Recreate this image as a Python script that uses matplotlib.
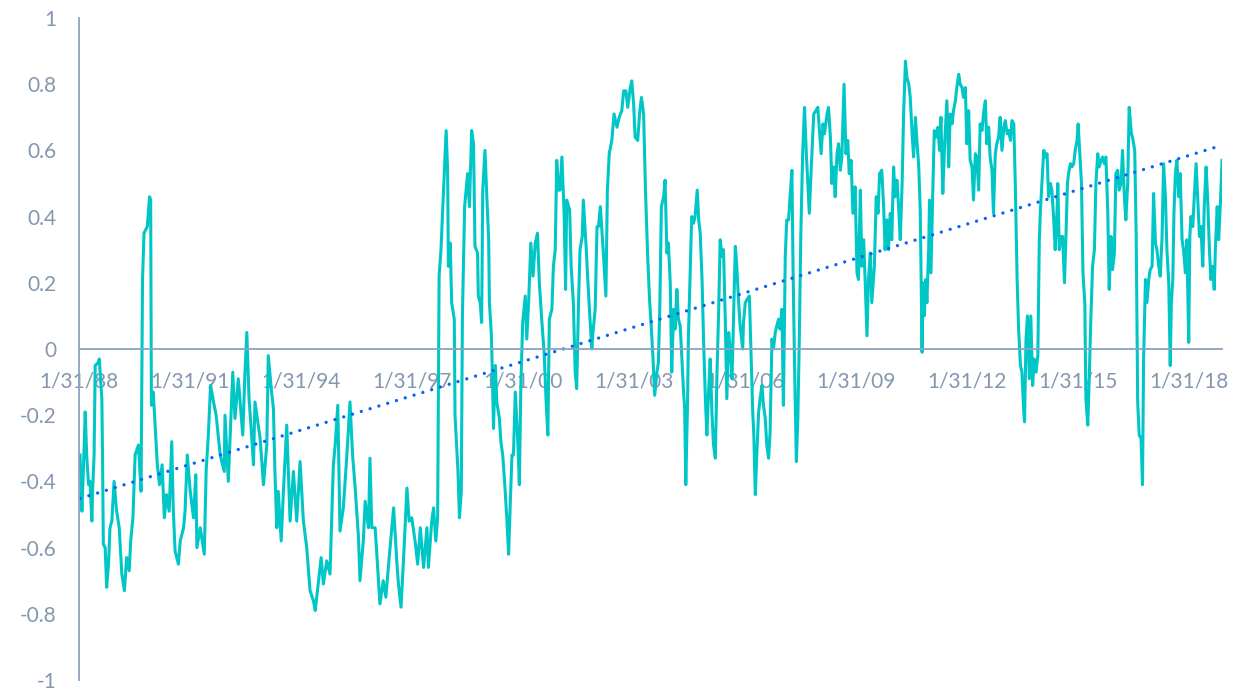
import numpy as np
import matplotlib
matplotlib.use("Agg")
import matplotlib.pyplot as plt

# rolling correlation, in decimal years
yrs_88_93 = [1988.11, 1988.16, 1988.20, 1988.25, 1988.29, 1988.34, 1988.38, 1988.43, 1988.45, 1988.49,
             1988.52, 1988.61, 1988.63, 1988.70, 1988.72, 1988.74, 1988.79, 1988.83, 1988.88, 1988.92,
             1988.97, 1989.03, 1989.10, 1989.17, 1989.24, 1989.31, 1989.37, 1989.44, 1989.48, 1989.54,
             1989.60, 1989.69, 1989.76, 1989.80, 1989.84, 1989.93, 1989.99, 1990.02, 1990.04, 1990.09,
             1990.14, 1990.20, 1990.26, 1990.33, 1990.39, 1990.45, 1990.52, 1990.59, 1990.63, 1990.68,
             1990.77, 1990.82, 1990.91, 1990.95, 1991.01, 1991.09, 1991.18, 1991.24, 1991.27, 1991.36,
             1991.47, 1991.52, 1991.58, 1991.64, 1991.72, 1991.79, 1991.90, 1992.01, 1992.03, 1992.12,
             1992.17, 1992.24, 1992.30, 1992.39, 1992.51, 1992.57, 1992.62, 1992.68, 1992.75, 1992.80,
             1992.84, 1992.98, 1993.07, 1993.16, 1993.20]
corr_88_93 = [-0.32, -0.49, -0.37, -0.19, -0.32, -0.41, -0.40, -0.52, -0.43, -0.32,
              -0.05, -0.04, -0.03, -0.15, -0.34, -0.59, -0.60, -0.72, -0.65, -0.54,
              -0.52, -0.40, -0.49, -0.54, -0.68, -0.73, -0.63, -0.67, -0.58, -0.51,
              -0.32, -0.29, -0.43, 0.21, 0.35, 0.37, 0.46, 0.45, -0.17, -0.13,
              -0.23, -0.35, -0.41, -0.35, -0.51, -0.44, -0.49, -0.28, -0.48, -0.61,
              -0.65, -0.58, -0.54, -0.49, -0.32, -0.43, -0.51, -0.38, -0.60, -0.54,
              -0.62, -0.37, -0.26, -0.11, -0.16, -0.20, -0.32, -0.37, -0.20, -0.40,
              -0.26, -0.07, -0.21, -0.09, -0.26, -0.07, 0.05, -0.15, -0.26, -0.35,
              -0.16, -0.27, -0.41, -0.29, -0.02]

yrs_93_98 = [1993.29, 1993.34, 1993.38, 1993.43, 1993.47, 1993.55, 1993.61, 1993.70, 1993.79, 1993.88,
             1993.97, 1994.06, 1994.15, 1994.24, 1994.33, 1994.42, 1994.47, 1994.56, 1994.63, 1994.69,
             1994.78, 1994.87, 1994.96, 1995.01, 1995.08, 1995.14, 1995.23, 1995.32, 1995.41, 1995.48,
             1995.55, 1995.64, 1995.68, 1995.77, 1995.82, 1995.91, 1995.95, 1996.00, 1996.09, 1996.18,
             1996.22, 1996.31, 1996.38, 1996.47, 1996.59, 1996.68, 1996.72, 1996.79, 1996.86, 1996.95,
             1997.01, 1997.08, 1997.17, 1997.24, 1997.31, 1997.40, 1997.49, 1997.53, 1997.62, 1997.67,
             1997.73, 1997.78, 1997.82, 1997.87, 1997.94, 1998.01, 1998.05, 1998.07, 1998.12, 1998.16,
             1998.23, 1998.25, 1998.33, 1998.37, 1998.42, 1998.45, 1998.51]
corr_93_98 = [-0.13, -0.18, -0.37, -0.54, -0.43, -0.58, -0.43, -0.23, -0.52, -0.37,
              -0.52, -0.34, -0.52, -0.60, -0.73, -0.76, -0.79, -0.70, -0.63, -0.71,
              -0.64, -0.68, -0.35, -0.29, -0.17, -0.55, -0.48, -0.33, -0.16, -0.32,
              -0.42, -0.57, -0.70, -0.58, -0.46, -0.54, -0.33, -0.54, -0.54, -0.70,
              -0.77, -0.70, -0.75, -0.63, -0.48, -0.65, -0.71, -0.78, -0.63, -0.42,
              -0.52, -0.51, -0.58, -0.65, -0.54, -0.66, -0.54, -0.66, -0.52, -0.48,
              -0.58, -0.51, 0.22, 0.30, 0.48, 0.66, 0.54, 0.25, 0.32, 0.14,
              0.09, -0.20, -0.37, -0.51, -0.43, 0.10, 0.43]

yrs_98_03 = [1998.59, 1998.64, 1998.70, 1998.75, 1998.79, 1998.86, 1998.88, 1998.93, 1998.97, 1999.00,
             1999.06, 1999.11, 1999.16, 1999.18, 1999.23, 1999.26, 1999.29, 1999.34, 1999.38, 1999.45,
             1999.49, 1999.54, 1999.59, 1999.65, 1999.70, 1999.74, 1999.79, 1999.83, 1999.88, 1999.94,
             1999.99, 2000.03, 2000.08, 2000.15, 2000.19, 2000.24, 2000.30, 2000.36, 2000.42, 2000.48,
             2000.53, 2000.60, 2000.66, 2000.71, 2000.76, 2000.80, 2000.87, 2000.91, 2000.96, 2001.00,
             2001.05, 2001.09, 2001.14, 2001.20, 2001.24, 2001.27, 2001.35, 2001.39, 2001.45, 2001.50,
             2001.54, 2001.59, 2001.63, 2001.69, 2001.72, 2001.80, 2001.84, 2001.90, 2001.95, 2001.98,
             2002.04, 2002.09, 2002.13, 2002.18, 2002.25, 2002.33, 2002.37, 2002.42, 2002.49, 2002.55,
             2002.63, 2002.69, 2002.76, 2002.81, 2002.87, 2002.92, 2002.99, 2003.03, 2003.08, 2003.12,
             2003.19, 2003.24, 2003.29, 2003.35, 2003.40, 2003.46, 2003.51, 2003.55, 2003.60, 2003.65,
             2003.71]
corr_98_03 = [0.53, 0.43, 0.66, 0.62, 0.31, 0.29, 0.16, 0.14, 0.08, 0.48,
              0.60, 0.46, 0.33, 0.14, 0.05, -0.07, -0.24, -0.05, -0.16, -0.21,
              -0.28, -0.32, -0.40, -0.51, -0.62, -0.48, -0.32, -0.32, -0.13, -0.26,
              -0.41, -0.11, 0.08, 0.16, 0.03, 0.14, 0.32, 0.22, 0.32, 0.35,
              0.20, 0.08, -0.01, -0.15, -0.26, 0.09, 0.12, 0.25, 0.30, 0.57,
              0.48, 0.48, 0.58, 0.41, 0.18, 0.45, 0.42, 0.25, 0.14, -0.07,
              -0.12, 0.14, 0.30, 0.34, 0.45, 0.30, 0.21, 0.09, 0.00, 0.05,
              0.12, 0.37, 0.37, 0.43, 0.31, 0.16, 0.48, 0.59, 0.63, 0.71,
              0.67, 0.70, 0.72, 0.78, 0.78, 0.73, 0.79, 0.81, 0.74, 0.64,
              0.63, 0.71, 0.76, 0.71, 0.48, 0.28, 0.15, 0.08, -0.02, -0.14,
              -0.07]

yrs_03_09 = [2003.75, 2003.79, 2003.83, 2003.89, 2003.93, 2003.98, 2004.02, 2004.07, 2004.11, 2004.16,
             2004.20, 2004.25, 2004.29, 2004.34, 2004.38, 2004.43, 2004.46, 2004.49, 2004.54, 2004.56,
             2004.61, 2004.65, 2004.70, 2004.74, 2004.80, 2004.84, 2004.88, 2004.93, 2004.97, 2005.02,
             2005.06, 2005.11, 2005.15, 2005.20, 2005.24, 2005.29, 2005.33, 2005.38, 2005.42, 2005.47,
             2005.51, 2005.56, 2005.60, 2005.65, 2005.69, 2005.74, 2005.78, 2005.83, 2005.87, 2005.92,
             2005.96, 2006.03, 2006.05, 2006.10, 2006.15, 2006.21, 2006.26, 2006.30, 2006.33, 2006.37,
             2006.41, 2006.46, 2006.50, 2006.55, 2006.59, 2006.64, 2006.68, 2006.73, 2006.77, 2006.82,
             2006.86, 2006.91, 2006.95, 2007.00, 2007.04, 2007.09, 2007.13, 2007.18, 2007.22, 2007.27,
             2007.31, 2007.36, 2007.39, 2007.43, 2007.48, 2007.52, 2007.56, 2007.60, 2007.65, 2007.70,
             2007.75, 2007.79, 2007.83, 2007.88, 2007.95, 2008.01, 2008.06, 2008.11, 2008.15, 2008.20,
             2008.24, 2008.31, 2008.35, 2008.40, 2008.44, 2008.49, 2008.53, 2008.58, 2008.62, 2008.67,
             2008.71, 2008.77, 2008.82, 2008.87, 2008.91, 2008.96, 2009.01]
corr_03_09 = [-0.04, 0.14, 0.43, 0.46, 0.51, 0.29, 0.32, 0.20, -0.07, 0.12,
              0.06, 0.18, 0.09, 0.07, -0.02, -0.13, -0.18, -0.41, -0.15, 0.03,
              0.23, 0.40, 0.38, 0.40, 0.48, 0.39, 0.35, 0.21, 0.03, -0.15,
              -0.26, -0.12, -0.03, -0.20, -0.29, -0.33, -0.09, 0.12, 0.33, 0.28,
              0.30, 0.08, -0.15, 0.05, 0.00, -0.09, 0.09, 0.31, 0.25, 0.14,
              0.07, 0.00, 0.08, 0.14, 0.15, 0.16, -0.03, -0.19, -0.26, -0.44,
              -0.32, -0.19, -0.15, -0.11, -0.17, -0.21, -0.29, -0.33, -0.25, 0.03,
              0.00, 0.05, 0.07, 0.09, 0.06, 0.12, -0.17, 0.28, 0.39, 0.39,
              0.46, 0.54, 0.25, -0.04, -0.34, -0.21, 0.03, 0.34, 0.59, 0.73,
              0.59, 0.50, 0.41, 0.54, 0.71, 0.72, 0.73, 0.65, 0.59, 0.68,
              0.65, 0.71, 0.73, 0.64, 0.50, 0.55, 0.46, 0.59, 0.62, 0.54,
              0.58, 0.80, 0.59, 0.63, 0.53, 0.57, 0.41]

yrs_09_14 = [2009.07, 2009.12, 2009.16, 2009.21, 2009.25, 2009.30, 2009.34, 2009.39, 2009.43, 2009.48,
             2009.52, 2009.59, 2009.64, 2009.69, 2009.73, 2009.79, 2009.84, 2009.88, 2009.93, 2009.97,
             2010.02, 2010.06, 2010.11, 2010.15, 2010.20, 2010.25, 2010.29, 2010.34, 2010.38, 2010.43,
             2010.47, 2010.52, 2010.56, 2010.61, 2010.65, 2010.70, 2010.74, 2010.79, 2010.83, 2010.88,
             2010.90, 2010.94, 2010.98, 2011.01, 2011.06, 2011.08, 2011.12, 2011.17, 2011.21, 2011.26,
             2011.31, 2011.35, 2011.39, 2011.44, 2011.49, 2011.53, 2011.55, 2011.60, 2011.64, 2011.69,
             2011.73, 2011.78, 2011.82, 2011.87, 2011.91, 2011.96, 2012.00, 2012.05, 2012.09, 2012.14,
             2012.18, 2012.23, 2012.27, 2012.32, 2012.36, 2012.41, 2012.45, 2012.50, 2012.54, 2012.59,
             2012.63, 2012.68, 2012.72, 2012.77, 2012.81, 2012.86, 2012.90, 2012.95, 2012.99, 2013.04,
             2013.09, 2013.13, 2013.18, 2013.22, 2013.27, 2013.31, 2013.36, 2013.40, 2013.45, 2013.49,
             2013.54, 2013.58, 2013.63, 2013.65, 2013.69, 2013.73, 2013.78, 2013.82, 2013.87, 2013.91,
             2013.96, 2014.01, 2014.05, 2014.08, 2014.12, 2014.17, 2014.21, 2014.26, 2014.30]
corr_09_14 = [0.49, 0.23, 0.21, 0.48, 0.25, 0.33, 0.21, 0.04, 0.21, 0.29,
              0.14, 0.25, 0.46, 0.41, 0.53, 0.54, 0.43, 0.30, 0.39, 0.30,
              0.41, 0.33, 0.55, 0.46, 0.51, 0.42, 0.33, 0.50, 0.71, 0.87,
              0.82, 0.80, 0.76, 0.65, 0.58, 0.70, 0.63, 0.55, 0.42, -0.01,
              0.20, 0.10, 0.21, 0.14, 0.31, 0.45, 0.23, 0.48, 0.66, 0.64,
              0.67, 0.60, 0.70, 0.47, 0.62, 0.71, 0.75, 0.55, 0.71, 0.68,
              0.72, 0.75, 0.79, 0.83, 0.80, 0.79, 0.76, 0.79, 0.62, 0.72,
              0.57, 0.55, 0.45, 0.59, 0.58, 0.48, 0.68, 0.66, 0.71, 0.75,
              0.62, 0.67, 0.58, 0.54, 0.41, 0.59, 0.62, 0.64, 0.70, 0.60,
              0.67, 0.69, 0.65, 0.66, 0.63, 0.69, 0.68, 0.50, 0.21, 0.06,
              -0.05, -0.07, -0.19, -0.22, 0.03, 0.10, -0.09, 0.10, -0.11, -0.03,
              -0.07, -0.02, 0.33, 0.42, 0.50, 0.60, 0.58, 0.59, 0.46]

yrs_14_18 = [2014.35, 2014.39, 2014.44, 2014.48, 2014.53, 2014.55, 2014.59, 2014.64, 2014.68, 2014.73,
             2014.77, 2014.81, 2014.84, 2014.89, 2014.93, 2014.98, 2015.02, 2015.07, 2015.10, 2015.14,
             2015.19, 2015.23, 2015.28, 2015.31, 2015.36, 2015.40, 2015.44, 2015.49, 2015.54, 2015.58,
             2015.63, 2015.67, 2015.72, 2015.76, 2015.81, 2015.85, 2015.90, 2015.94, 2015.99, 2016.03,
             2016.08, 2016.12, 2016.17, 2016.21, 2016.26, 2016.30, 2016.35, 2016.39, 2016.44, 2016.48,
             2016.54, 2016.57, 2016.63, 2016.67, 2016.71, 2016.75, 2016.80, 2016.84, 2016.87, 2016.92,
             2016.96, 2017.01, 2017.05, 2017.10, 2017.14, 2017.19, 2017.23, 2017.28, 2017.32, 2017.37,
             2017.41, 2017.46, 2017.50, 2017.55, 2017.59, 2017.62, 2017.66, 2017.69, 2017.73, 2017.77,
             2017.82, 2017.86, 2017.91, 2017.95, 2018.00, 2018.04, 2018.09, 2018.12, 2018.15, 2018.20,
             2018.24, 2018.29, 2018.33, 2018.38, 2018.42, 2018.47, 2018.51, 2018.56, 2018.60, 2018.65,
             2018.69, 2018.74, 2018.78, 2018.81, 2018.86, 2018.90, 2018.95, 2018.99]
corr_14_18 = [0.50, 0.48, 0.39, 0.30, 0.42, 0.50, 0.30, 0.34, 0.34, 0.20,
              0.34, 0.50, 0.53, 0.56, 0.55, 0.56, 0.60, 0.63, 0.68, 0.60,
              0.50, 0.23, 0.14, -0.15, -0.23, -0.09, 0.08, 0.25, 0.30, 0.50,
              0.59, 0.55, 0.57, 0.58, 0.56, 0.58, 0.42, 0.18, 0.34, 0.24,
              0.29, 0.53, 0.54, 0.48, 0.50, 0.60, 0.46, 0.39, 0.50, 0.73,
              0.65, 0.64, 0.60, 0.34, -0.16, -0.26, -0.27, -0.41, -0.03, 0.21,
              0.14, 0.21, 0.24, 0.25, 0.47, 0.32, 0.30, 0.25, 0.22, 0.34,
              0.56, 0.46, 0.30, 0.20, -0.05, 0.14, 0.21, 0.41, 0.53, 0.57,
              0.46, 0.53, 0.33, 0.30, 0.23, 0.33, 0.02, 0.34, 0.40, 0.37,
              0.46, 0.56, 0.46, 0.34, 0.37, 0.25, 0.43, 0.55, 0.46, 0.30,
              0.21, 0.25, 0.18, 0.30, 0.43, 0.33, 0.45, 0.57]

tick_years = [1988, 1991, 1994, 1997, 2000, 2003, 2006, 2009, 2012, 2015, 2018]
tick_labels = ["1/31/88", "1/31/91", "1/31/94", "1/31/97", "1/31/00", "1/31/03",
               "1/31/06", "1/31/09", "1/31/12", "1/31/15", "1/31/18"]
y_ticks = [1, 0.8, 0.6, 0.4, 0.2, 0, -0.2, -0.4, -0.6, -0.8, -1]
y_labels = ["1", "0.8", "0.6", "0.4", "0.2", "0", "-0.2", "-0.4", "-0.6", "-0.8", "-1"]

years = np.array(yrs_88_93 + yrs_93_98 + yrs_98_03 + yrs_03_09 + yrs_09_14 + yrs_14_18)
corr = np.array(corr_88_93 + corr_93_98 + corr_98_03 + corr_03_09 + corr_09_14 + corr_14_18)

# linear trend (like the Excel trendline), fitted on an even time grid
grid = np.linspace(years[0], years[-1], 2000)
slope, icpt = np.polyfit(grid, np.interp(grid, years, corr), 1)
trend_x = np.array([years[0], years[-1]])

plt.rcParams['font.family'] = ['Lato', 'DejaVu Sans']
axis_col = '#8EA2C0'
text_col = '#8497B0'

fig = plt.figure(figsize=(12.48, 6.88), dpi=100)
ax = fig.add_axes([79 / 1248, 8 / 688, (1222 - 79) / 1248, 662 / 688])

ax.plot(years, corr, color='#00C6C6', lw=2.2, solid_joinstyle='round')
ax.plot(trend_x, slope * trend_x + icpt, color='#0A63F5', lw=2.4,
        linestyle=(0, (0.01, 2.75)), dash_capstyle='round')

ax.set_xlim(1988 + 30 / 365, years[-1])
ax.set_ylim(-1, 1)

ax.set_yticks(y_ticks)
ax.set_yticklabels(y_labels)
ax.set_xticks([y + 30 / 365 for y in tick_years])
ax.set_xticklabels(tick_labels)

ax.spines['top'].set_visible(False)
ax.spines['right'].set_visible(False)
ax.spines['bottom'].set_position(('data', 0))
for s in ['left', 'bottom']:
    ax.spines[s].set_color(axis_col)
    ax.spines[s].set_linewidth(1.3)

ax.tick_params(axis='y', length=0, pad=16, labelsize=15, labelcolor=text_col)
ax.tick_params(axis='x', length=0, pad=16, labelsize=15, labelcolor=text_col)

fig.savefig('out.png', dpi=100)
